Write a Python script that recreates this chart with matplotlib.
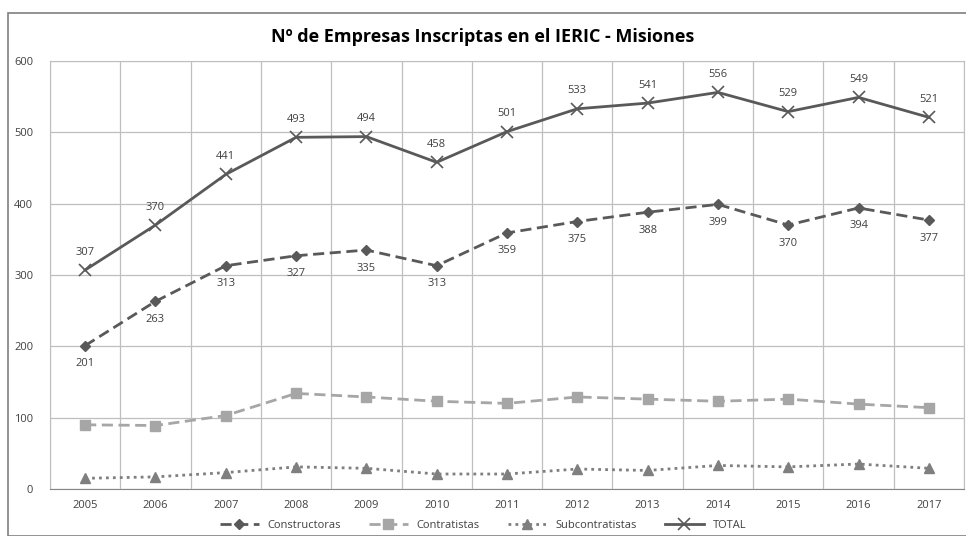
import matplotlib.pyplot as plt
from matplotlib.patches import Rectangle

years = [2005, 2006, 2007, 2008, 2009, 2010, 2011, 2012, 2013, 2014, 2015, 2016, 2017]
constructoras = [201, 263, 313, 327, 335, 313, 359, 375, 388, 399, 370, 394, 377]
contratistas = [90, 89, 103, 134, 129, 123, 120, 129, 126, 123, 126, 119, 114]
subcontratistas = [15, 17, 23, 31, 29, 21, 21, 28, 26, 33, 31, 35, 29]
total = [307, 370, 441, 493, 494, 458, 501, 533, 541, 556, 529, 549, 521]

plt.rcParams['font.family'] = ['Open Sans', 'DejaVu Sans']

fig = plt.figure(figsize=(9.66, 5.36), dpi=100)
fig.patches.append(Rectangle((8 / 966, 0), 1, 1 - 13 / 536, transform=fig.transFigure,
                             fill=False, edgecolor='#7f7f7f', linewidth=1.2))
ax = fig.add_axes([50 / 966, 1 - 489 / 536, 914 / 966, 428 / 536])

dark = '#595959'
ax.plot(years, constructoras, color=dark, linestyle=(0, (4, 2)), linewidth=2,
        marker='D', markersize=5, label='Constructoras')
ax.plot(years, contratistas, color='#a6a6a6', linestyle=(0, (4, 2)), linewidth=2,
        marker='s', markersize=7, label='Contratistas')
ax.plot(years, subcontratistas, color='#7f7f7f', linestyle=(0, (1, 1.5)), linewidth=2,
        marker='^', markersize=7, label='Subcontratistas')
ax.plot(years, total, color=dark, linewidth=2, marker='x', markersize=8,
        markeredgewidth=1.2, label='TOTAL')

for x, y in zip(years, total):
    ax.annotate(str(y), (x, y), xytext=(0, 9), textcoords='offset points',
                ha='center', va='bottom', fontsize=8, color='#404040')
for x, y in zip(years, constructoras):
    ax.annotate(str(y), (x, y), xytext=(0, -9), textcoords='offset points',
                ha='center', va='top', fontsize=8, color='#404040')

ax.set_xlim(2004.5, 2017.5)
ax.set_ylim(0, 600)
ax.set_yticks(range(0, 601, 100))
ax.set_xticks(years)
ax.set_xticks([y + 0.5 for y in [2004] + years], minor=True)
ax.tick_params(axis='both', which='both', length=0, labelsize=8, colors='#404040')
ax.tick_params(axis='x', pad=8)
ax.tick_params(axis='y', pad=12)
ax.grid(axis='y', which='major', color='#bfbfbf', linewidth=0.9)
ax.grid(axis='x', which='minor', color='#bfbfbf', linewidth=0.9)
ax.set_axisbelow(True)
for s in ['top', 'right', 'left']:
    ax.spines[s].set_color('#bfbfbf')
ax.spines['bottom'].set_color('#868686')

fig.text(0.5, 1 - 37 / 536, 'Nº de Empresas Inscriptas en el IERIC - Misiones',
         ha='center', va='center', fontsize=13, fontweight='bold', color='black')

fig.legend(loc='center', bbox_to_anchor=(0.5, 1 - 525 / 536), ncol=4, frameon=False,
           fontsize=8, handlelength=3.5, columnspacing=2.5, labelcolor='#404040')

fig.savefig('out.png', dpi=100)
